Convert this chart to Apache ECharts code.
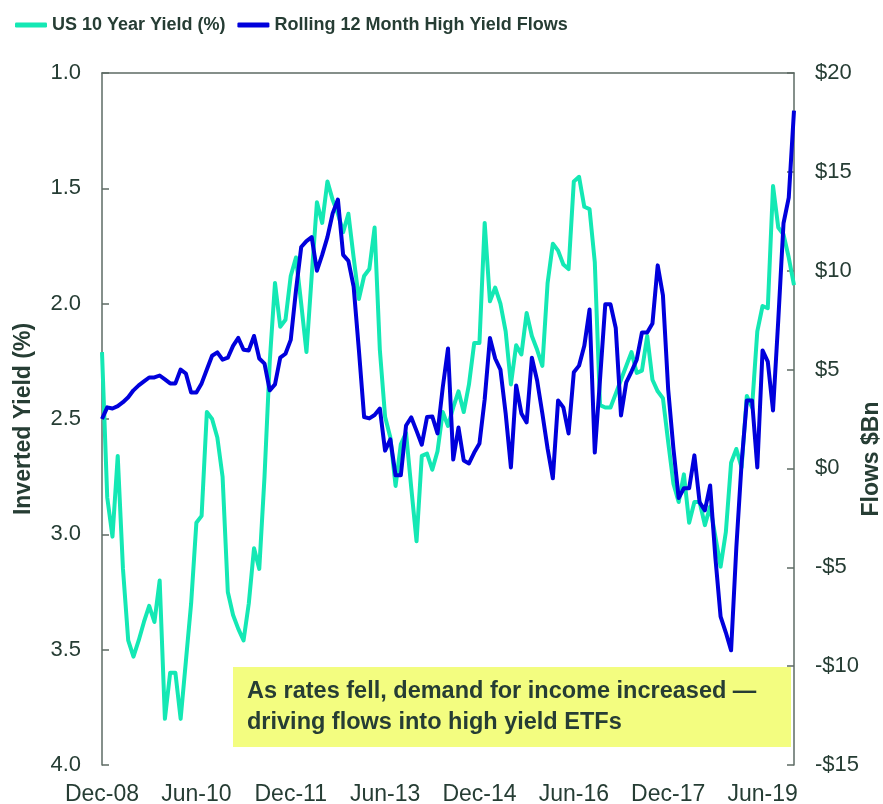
<!DOCTYPE html>
<html>
<head>
<meta charset="utf-8">
<script src="https://cdn.jsdelivr.net/npm/echarts@6/dist/echarts.min.js"></script>
<style>
  html, body { margin: 0; padding: 0; background: #ffffff; }
  #chart { width: 883px; height: 804px; }
</style>
</head>
<body>
<div id="chart"></div>
<script>
// Monthly categories Dec-08 .. Dec-19
const monthNames = ['Jan','Feb','Mar','Apr','May','Jun','Jul','Aug','Sep','Oct','Nov','Dec'];
const categories = [];
for (let i = 0; i < 133; i++) {
  const m = (11 + i) % 12;
  const y = 2008 + Math.floor((11 + i) / 12);
  categories.push(monthNames[m] + '-' + String(y % 100).padStart(2, '0'));
}

// US 10 Year Yield (%) - plotted on inverted left axis
const yieldPct = [
  2.21, 2.84, 3.01, 2.66, 3.15, 3.46, 3.53, 3.46, 3.38, 3.31,
  3.38, 3.20, 3.80, 3.60, 3.60, 3.80, 3.55, 3.30, 2.95, 2.92,
  2.47, 2.50, 2.58, 2.75, 3.25, 3.35, 3.41, 3.46, 3.30, 3.06,
  3.15, 2.75, 2.25, 1.91, 2.10, 2.07, 1.88, 1.80, 2.00, 2.21,
  1.88, 1.56, 1.65, 1.47, 1.55, 1.61, 1.69, 1.61, 1.80, 1.98,
  1.88, 1.85, 1.67, 2.20, 2.49, 2.58, 2.79, 2.61, 2.56, 2.80,
  3.03, 2.66, 2.65, 2.72, 2.64, 2.47, 2.53, 2.45, 2.38, 2.47,
  2.35, 2.17, 2.17, 1.65, 1.99, 1.93, 2.00, 2.12, 2.35, 2.18,
  2.22, 2.04, 2.14, 2.20, 2.27, 1.91, 1.74, 1.77, 1.83, 1.85,
  1.47, 1.45, 1.58, 1.59, 1.82, 2.44, 2.45, 2.45, 2.39, 2.33,
  2.27, 2.21, 2.30, 2.29, 2.14, 2.33, 2.38, 2.41, 2.60, 2.78,
  2.86, 2.74, 2.95, 2.86, 2.86, 2.96, 2.88, 3.01, 3.14, 2.99,
  2.69, 2.63, 2.71, 2.40, 2.45, 2.12, 2.01, 2.02, 1.49, 1.67,
  1.70, 1.80, 1.92
];

// Rolling 12 Month High Yield Flows ($Bn) - right axis
const hyFlows = [
  2.5, 3.09, 3.03, 3.15, 3.35, 3.6, 3.95, 4.2, 4.4, 4.6,
  4.6, 4.7, 4.5, 4.3, 4.3, 5.0, 4.8, 3.84, 3.84, 4.3,
  5.0, 5.7, 5.87, 5.5, 5.6, 6.2, 6.6, 6.0, 5.97, 6.7,
  5.56, 5.3, 3.95, 4.25, 5.6, 5.8, 6.5, 9.0, 11.2, 11.5,
  11.7, 10.0, 10.8, 11.7, 12.9, 13.6, 10.8, 10.5, 9.2, 6.0,
  2.6, 2.53, 2.7, 3.03, 0.9, 1.47, -0.35, -0.35, 2.17, 2.58,
  1.9, 1.2, 2.6, 2.63, 1.77, 4.1, 6.07, 0.45, 2.07, 0.4,
  0.25, 0.8, 1.26, 3.5, 6.6, 5.56, 5.0, 2.78, 0.05, 4.2,
  2.78, 2.33, 5.6, 4.45, 2.78, 1.0, -0.5, 3.44, 3.09, 1.77,
  4.86, 5.2, 6.2, 8.04, 0.8, 4.5, 8.3, 8.3, 7.1, 2.68,
  4.35, 4.9, 5.5, 6.88, 6.88, 7.33, 10.27, 8.75, 4.0, 1.0,
  -1.5, -1.0, -1.0, 0.66, -1.72, -2.12, -0.86, -4.5, -7.5, -8.3,
  -9.2, -4.0, 0.25, 3.44, 3.44, 0.05, 5.97, 5.4, 2.93, 7.5,
  12.4, 13.7, 18.1
];

const seriesNames = ['US 10 Year Yield (%)', 'Rolling 12 Month High Yield Flows'];
const annotationLines = ['As rates fell, demand for income increased \u2014', 'driving flows into high yield ETFs'];

const TEXT = '#263d34';
const AXIS = '#5d6b64';
const GREEN = '#14e8b4';
const BLUE = '#0000dc';
const FONT = '"Liberation Sans", Arial, sans-serif';

const chart = echarts.init(document.getElementById('chart'), null, { renderer: 'canvas' });
chart.setOption({
  backgroundColor: '#ffffff',
  animation: false,
  legend: {
    left: 10, top: 11,
    itemWidth: 32, itemHeight: 5, itemGap: 12,
    icon: 'roundRect',
    data: seriesNames,
    textStyle: { color: TEXT, fontSize: 18, fontWeight: 'bold', fontFamily: FONT }
  },
  grid: { left: 102, right: 89, top: 73, bottom: 39, containLabel: false, outerBoundsMode: 'none' },
  xAxis: [
    {
      type: 'category',
      data: categories,
      boundaryGap: false,
      axisLine: { show: false },
      axisTick: { show: false },
      splitLine: { show: false },
      axisLabel: {
        interval: 17,
        margin: 18,
        color: TEXT,
        fontSize: 23,
        fontFamily: FONT
      }
    },
    {
      type: 'category',
      data: categories,
      position: 'top',
      boundaryGap: false,
      axisLine: { show: true, lineStyle: { color: AXIS, width: 1.5 } },
      axisTick: { show: false },
      axisLabel: { show: false },
      splitLine: { show: false }
    }
  ],
  yAxis: [
    {
      type: 'value',
      inverse: true,
      min: 1, max: 4, interval: 0.5,
      position: 'left',
      name: 'Inverted Yield (%)',
      nameLocation: 'middle',
      nameRotate: 90,
      nameGap: 67,
      nameMoveOverlap: false,
      nameTextStyle: { color: TEXT, fontSize: 23, fontWeight: 'bold', fontFamily: FONT },
      axisLine: { show: true, lineStyle: { color: AXIS, width: 1.5 } },
      axisTick: { show: true, inside: true, length: 7, lineStyle: { color: AXIS, width: 1.5 } },
      splitLine: { show: false },
      axisLabel: {
        margin: 21,
        color: TEXT,
        fontSize: 22,
        fontFamily: FONT,
        formatter: v => v.toFixed(1)
      }
    },
    {
      type: 'value',
      min: -15, max: 20, interval: 5,
      position: 'right',
      name: 'Flows $Bn',
      nameLocation: 'middle',
      nameRotate: 90,
      nameGap: 66,
      nameMoveOverlap: false,
      nameTextStyle: { color: TEXT, fontSize: 23, fontWeight: 'bold', fontFamily: FONT, padding: [0, 80, 0, 0] },
      axisLine: { show: true, lineStyle: { color: AXIS, width: 1.5 } },
      axisTick: { show: true, inside: true, length: 7, lineStyle: { color: AXIS, width: 1.5 } },
      splitLine: { show: false },
      axisLabel: {
        margin: 21,
        color: TEXT,
        fontSize: 22,
        fontFamily: FONT,
        formatter: v => (v < 0 ? '-$' + Math.abs(v) : '$' + v)
      }
    }
  ],
  series: [
    {
      name: seriesNames[0],
      type: 'line',
      yAxisIndex: 0,
      data: yieldPct,
      showSymbol: false,
      symbol: 'none',
      lineStyle: { color: GREEN, width: 4, join: 'round' },
      itemStyle: { color: GREEN },
      z: 2
    },
    {
      name: seriesNames[1],
      type: 'line',
      yAxisIndex: 1,
      data: hyFlows,
      showSymbol: false,
      symbol: 'none',
      lineStyle: { color: BLUE, width: 4, join: 'round' },
      itemStyle: { color: BLUE },
      z: 3
    }
  ],
  graphic: [
    {
      type: 'group',
      left: 233, top: 667,
      children: [
        { type: 'rect', shape: { x: 0, y: 0, width: 558, height: 80 }, style: { fill: '#f3fd80' } },
        {
          type: 'text', x: 14, y: 9,
          style: {
            text: annotationLines.join('\n'),
            fill: TEXT,
            font: 'bold 23.5px ' + FONT,
            lineHeight: 31
          }
        }
      ]
    }
  ]
});
</script>
</body>
</html>
